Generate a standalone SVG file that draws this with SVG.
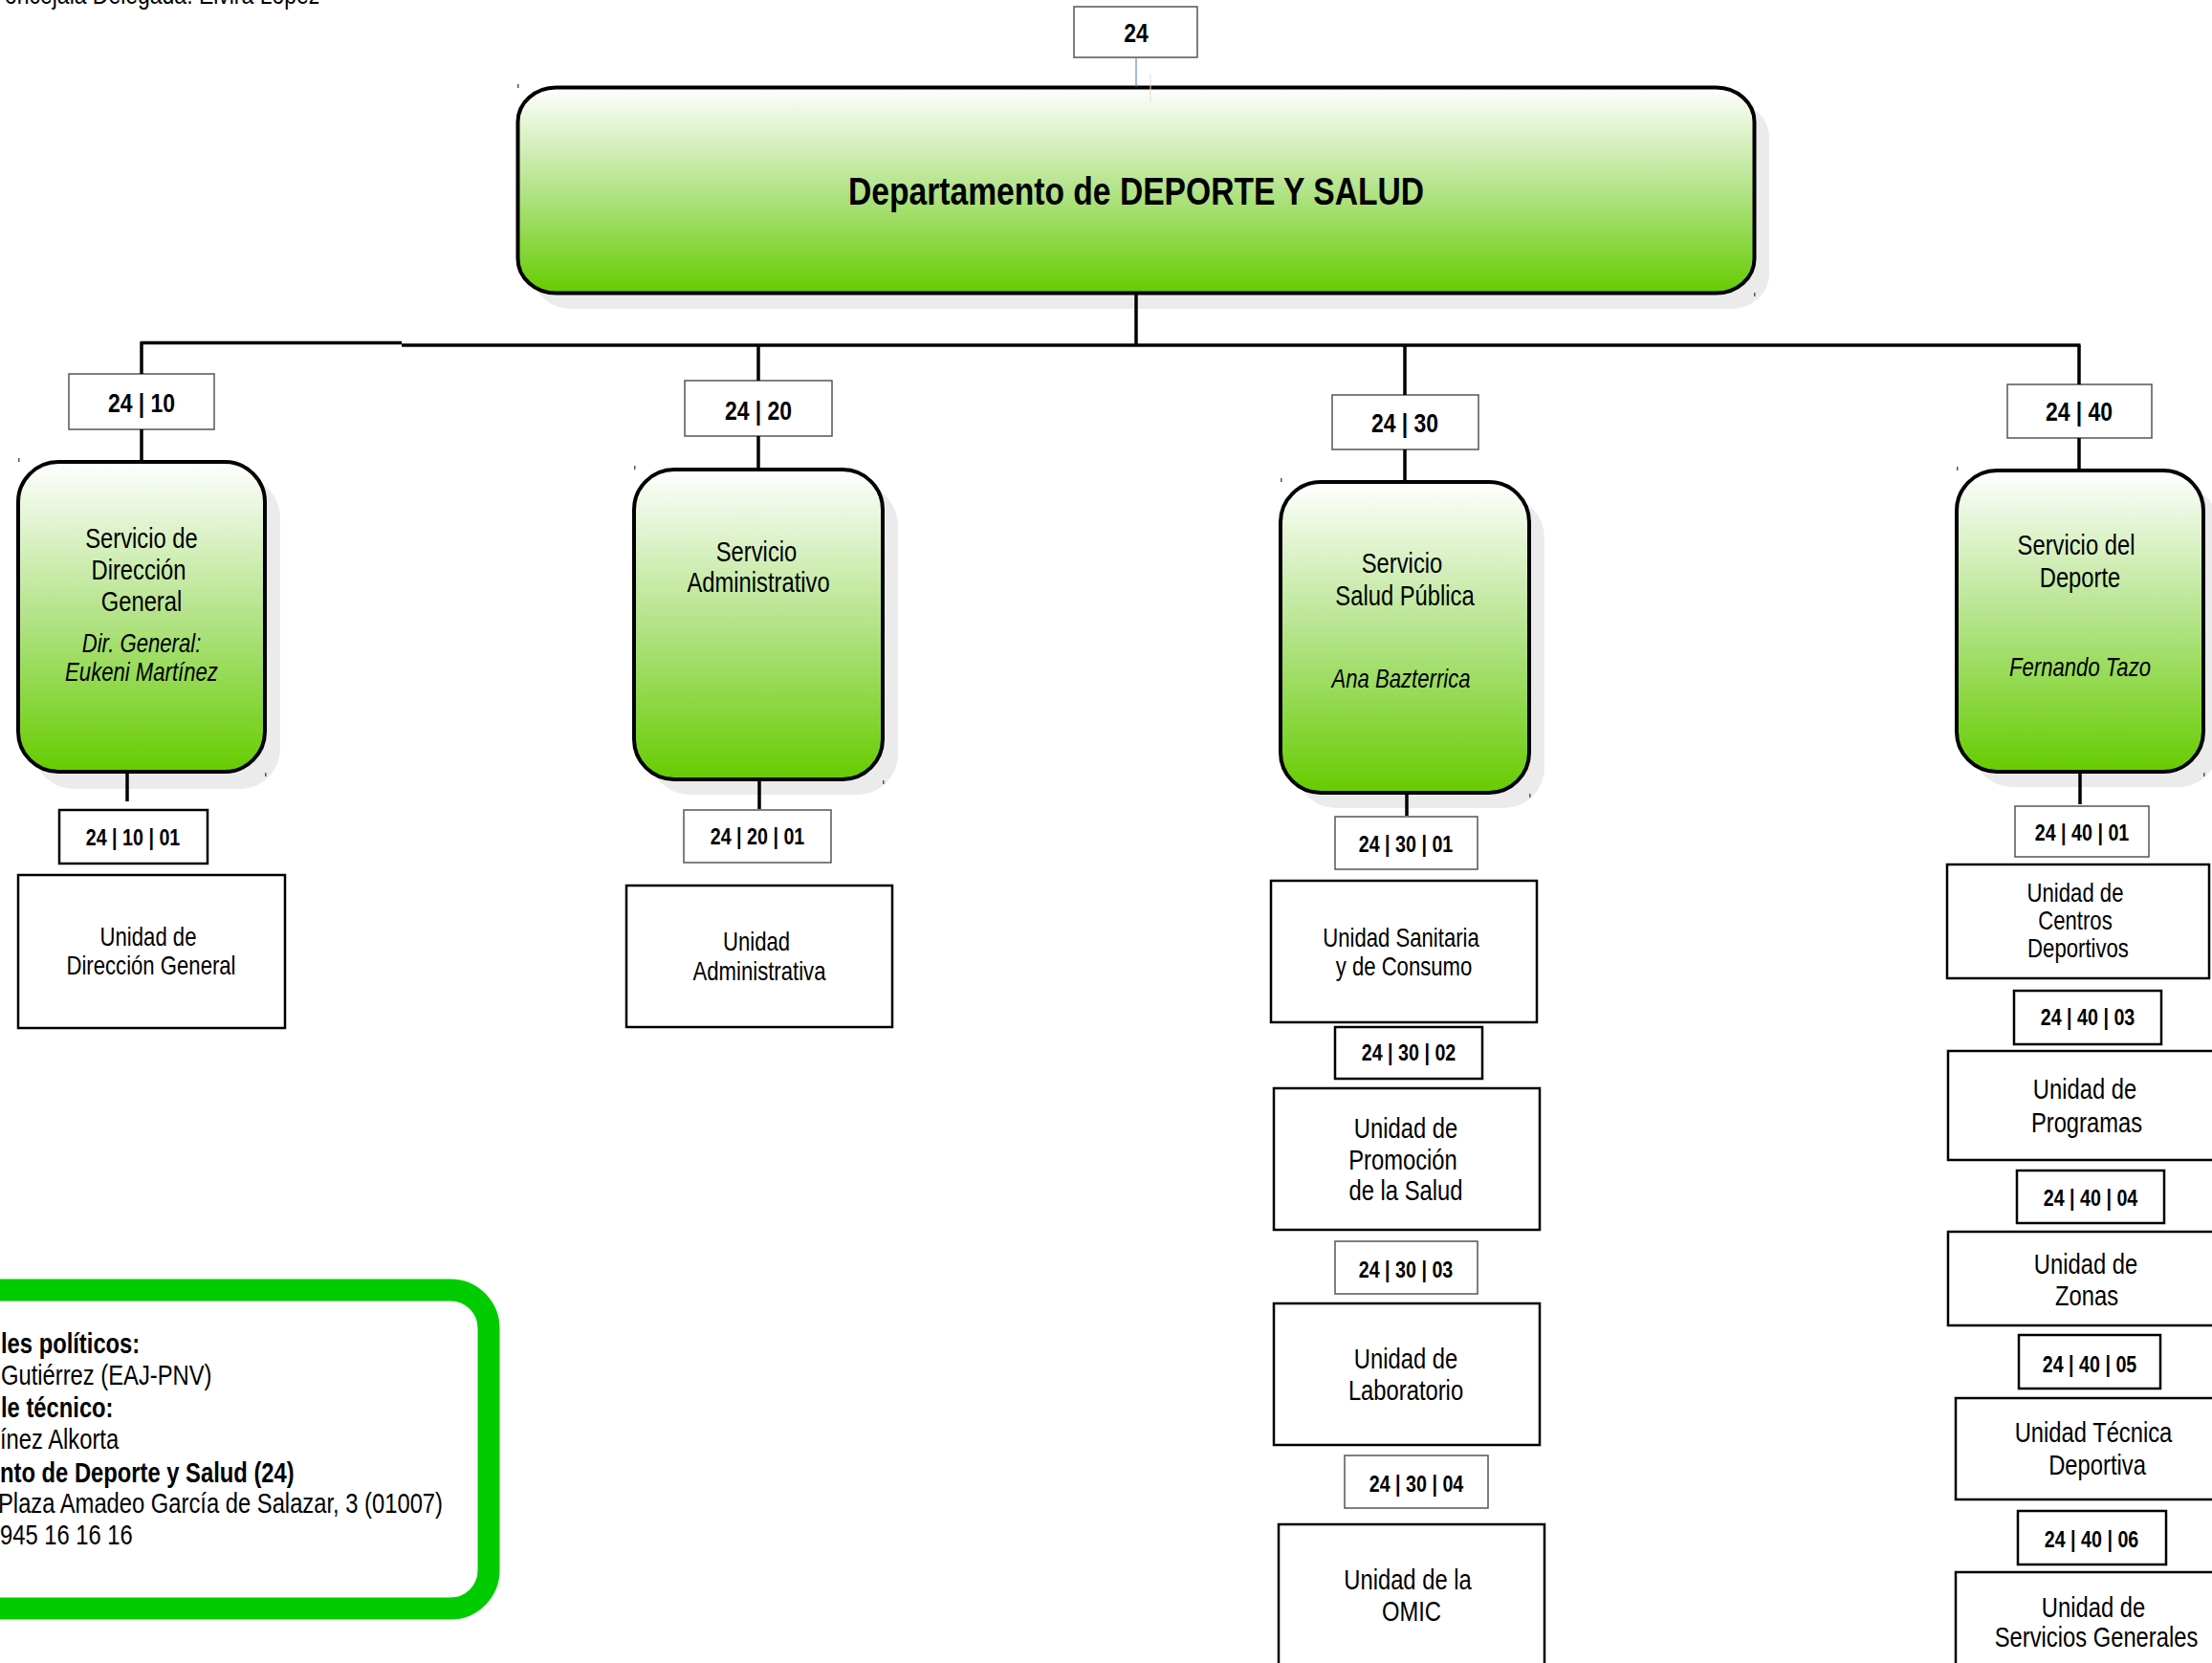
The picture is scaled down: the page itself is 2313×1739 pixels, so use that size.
<svg xmlns="http://www.w3.org/2000/svg" width="2313" height="1739" viewBox="0 0 2313 1739">
<defs>
<linearGradient id="g" x1="0" y1="0" x2="0" y2="1">
<stop offset="0" stop-color="#ffffff"/>
<stop offset="0.5" stop-color="#b3e388"/>
<stop offset="1" stop-color="#66cc00"/>
</linearGradient>
<style>
text{font-family:"Liberation Sans Narrow","Liberation Sans",Arial,sans-serif;fill:#000;text-anchor:middle}
.shadow{fill:#ebebeb}
.svc{fill:url(#g);stroke:#000;stroke-width:4}
.code{fill:#fff;stroke:#555;stroke-width:1.5}
.codek{fill:#fff;stroke:#000;stroke-width:2.5}
.unit{fill:#fff;stroke:#000;stroke-width:2.5}
.c1{font-size:28px;font-weight:bold}
.c2{font-size:24px;font-weight:bold}
.sn{font-size:29px}
.it{font-size:27px;font-style:italic}
.u{font-size:27px}
.ub{font-size:29px}
.lg{font-size:29px;text-anchor:start}
.b{font-weight:bold}
.conn{stroke:#000;stroke-width:3.5;fill:none}
.mk{fill:#555}
</style>
</defs>
<rect width="2313" height="1739" fill="#fff"/>

<text transform="translate(5 4) scale(.82 1)" style="font-size:28px;text-anchor:start">oncejala Delegada: Elvira López</text>

<g id="n24">
<rect class="code" x="1123" y="7" width="129" height="53"/>
<text class="c1" transform="translate(1188 44) scale(.82 1)">24</text>
</g>

<g id="dept">
<rect class="shadow" x="557" y="107" width="1293" height="216" rx="40" ry="36"/>
<rect class="svc" x="541.5" y="91.5" width="1293" height="215" rx="40" ry="36"/>
<rect class="mk" x="541" y="88" width="1.5" height="4"/>
<rect class="mk" x="1834" y="306" width="1.5" height="4"/>
<text transform="translate(1188 214) scale(.82 1)" style="font-size:41px;font-weight:bold">Departamento de DEPORTE Y SALUD</text>
</g>

<g id="n2410">
<rect class="code" x="72" y="391" width="152" height="58"/>
<text class="c1" transform="translate(148 431) scale(.82 1)">24 | 10</text>
</g>
<g id="svc10">
<rect class="shadow" x="35" y="499" width="258" height="326" rx="42"/>
<rect class="svc" x="19" y="483" width="258" height="324" rx="42"/>
<rect class="mk" x="19" y="479" width="1.5" height="4"/>
<rect class="mk" x="277" y="808" width="1.5" height="4"/>
<text class="sn" transform="translate(148 573) scale(.82 1)">Servicio de</text>
<text class="sn" transform="translate(145 606) scale(.82 1)">Dirección</text>
<text class="sn" transform="translate(148 639) scale(.82 1)">General</text>
<text class="it" transform="translate(148 682) scale(.82 1)">Dir. General:</text>
<text class="it" transform="translate(148 712) scale(.82 1)">Eukeni Martínez</text>
</g>
<g id="n241001">
<rect class="codek" x="62" y="847" width="155" height="56"/>
<text class="c2" transform="translate(139 884) scale(.82 1)">24 | 10 | 01</text>
</g>
<g id="u241001">
<rect class="unit" x="19" y="915" width="279" height="160"/>
<text class="u" transform="translate(155 989) scale(.82 1)">Unidad de</text>
<text class="u" transform="translate(158 1019) scale(.82 1)">Dirección General</text>
</g>

<g id="n2420">
<rect class="code" x="716" y="398" width="154" height="58"/>
<text class="c1" transform="translate(793 439) scale(.82 1)">24 | 20</text>
</g>
<g id="svc20">
<rect class="shadow" x="679" y="507" width="260" height="324" rx="42"/>
<rect class="svc" x="663" y="491" width="260" height="324" rx="42"/>
<rect class="mk" x="663" y="487" width="1.5" height="4"/>
<rect class="mk" x="923" y="816" width="1.5" height="4"/>
<text class="sn" transform="translate(791 587) scale(.82 1)">Servicio</text>
<text class="sn" transform="translate(793 619) scale(.82 1)">Administrativo</text>
</g>
<g id="n242001">
<rect class="code" x="715" y="847" width="154" height="55"/>
<text class="c2" transform="translate(792 883) scale(.82 1)">24 | 20 | 01</text>
</g>
<g id="u242001">
<rect class="unit" x="655" y="926" width="278" height="148"/>
<text class="u" transform="translate(791 994) scale(.82 1)">Unidad</text>
<text class="u" transform="translate(794 1025) scale(.82 1)">Administrativa</text>
</g>

<g id="n2430">
<rect class="code" x="1393" y="413" width="153" height="57"/>
<text class="c1" transform="translate(1469 452) scale(.82 1)">24 | 30</text>
</g>
<g id="svc30">
<rect class="shadow" x="1355" y="520" width="260" height="325" rx="42"/>
<rect class="svc" x="1339" y="504" width="260" height="325" rx="42"/>
<rect class="mk" x="1339" y="500" width="1.5" height="4"/>
<rect class="mk" x="1599" y="830" width="1.5" height="4"/>
<text class="sn" transform="translate(1466 599) scale(.82 1)">Servicio</text>
<text class="sn" transform="translate(1469 633) scale(.82 1)">Salud Pública</text>
<text class="it" transform="translate(1465 719) scale(.82 1)">Ana Bazterrica</text>
</g>
<g id="n243001">
<rect class="code" x="1396" y="854" width="149" height="55"/>
<text class="c2" transform="translate(1470 891) scale(.82 1)">24 | 30 | 01</text>
</g>
<g id="u243001">
<rect class="unit" x="1329" y="921" width="278" height="148"/>
<text class="u" transform="translate(1465 990) scale(.82 1)">Unidad Sanitaria</text>
<text class="u" transform="translate(1468 1020) scale(.82 1)">y de Consumo</text>
</g>
<g id="n243002">
<rect class="codek" x="1396" y="1074" width="154" height="54"/>
<text class="c2" transform="translate(1473 1109) scale(.82 1)">24 | 30 | 02</text>
</g>
<g id="u243002">
<rect class="unit" x="1332" y="1138" width="278" height="148"/>
<text class="ub" transform="translate(1470 1190) scale(.82 1)">Unidad de</text>
<text class="ub" transform="translate(1467 1223) scale(.82 1)">Promoción</text>
<text class="ub" transform="translate(1470 1255) scale(.82 1)">de la Salud</text>
</g>
<g id="n243003">
<rect class="code" x="1396" y="1298" width="149" height="55"/>
<text class="c2" transform="translate(1470 1336) scale(.82 1)">24 | 30 | 03</text>
</g>
<g id="u243003">
<rect class="unit" x="1332" y="1363" width="278" height="148"/>
<text class="ub" transform="translate(1470 1431) scale(.82 1)">Unidad de</text>
<text class="ub" transform="translate(1470 1464) scale(.82 1)">Laboratorio</text>
</g>
<g id="n243004">
<rect class="code" x="1406" y="1522" width="150" height="55"/>
<text class="c2" transform="translate(1481 1560) scale(.82 1)">24 | 30 | 04</text>
</g>
<g id="u243004">
<rect class="unit" x="1337" y="1594" width="278" height="170"/>
<text class="ub" transform="translate(1472 1662) scale(.82 1)">Unidad de la</text>
<text class="ub" transform="translate(1476 1695) scale(.82 1)">OMIC</text>
</g>

<g id="n2440">
<rect class="code" x="2099" y="402" width="151" height="56"/>
<text class="c1" transform="translate(2174 440) scale(.82 1)">24 | 40</text>
</g>
<g id="svc40">
<rect class="shadow" x="2062" y="508" width="258" height="315" rx="42"/>
<rect class="svc" x="2046" y="492" width="258" height="315" rx="42"/>
<rect class="mk" x="2046" y="488" width="1.5" height="4"/>
<rect class="mk" x="2304" y="808" width="1.5" height="4"/>
<text class="sn" transform="translate(2171 580) scale(.82 1)">Servicio del</text>
<text class="sn" transform="translate(2175 614) scale(.82 1)">Deporte</text>
<text class="it" transform="translate(2175 707) scale(.82 1)">Fernando Tazo</text>
</g>
<g id="n244001">
<rect class="code" x="2107" y="843" width="140" height="53"/>
<text class="c2" transform="translate(2177 879) scale(.82 1)">24 | 40 | 01</text>
</g>
<g id="u244001">
<rect class="unit" x="2036" y="904" width="274" height="119"/>
<text class="u" transform="translate(2170 943) scale(.82 1)">Unidad de</text>
<text class="u" transform="translate(2170 972) scale(.82 1)">Centros</text>
<text class="u" transform="translate(2173 1001) scale(.82 1)">Deportivos</text>
</g>
<g id="n244003">
<rect class="codek" x="2106" y="1036" width="154" height="56"/>
<text class="c2" transform="translate(2183 1072) scale(.82 1)">24 | 40 | 03</text>
</g>
<g id="u244003">
<rect class="unit" x="2037" y="1099" width="290" height="114"/>
<text class="ub" transform="translate(2180 1149) scale(.82 1)">Unidad de</text>
<text class="ub" transform="translate(2182 1184) scale(.82 1)">Programas</text>
</g>
<g id="n244004">
<rect class="codek" x="2109" y="1224" width="154" height="55"/>
<text class="c2" transform="translate(2186 1261) scale(.82 1)">24 | 40 | 04</text>
</g>
<g id="u244004">
<rect class="unit" x="2037" y="1288" width="290" height="98"/>
<text class="ub" transform="translate(2181 1332) scale(.82 1)">Unidad de</text>
<text class="ub" transform="translate(2182 1365) scale(.82 1)">Zonas</text>
</g>
<g id="n244005">
<rect class="codek" x="2111" y="1396" width="148" height="56"/>
<text class="c2" transform="translate(2185 1435) scale(.82 1)">24 | 40 | 05</text>
</g>
<g id="u244005">
<rect class="unit" x="2045" y="1462" width="290" height="106"/>
<text class="ub" transform="translate(2189 1508) scale(.82 1)">Unidad Técnica</text>
<text class="ub" transform="translate(2193 1542) scale(.82 1)">Deportiva</text>
</g>
<g id="n244006">
<rect class="codek" x="2110" y="1580" width="155" height="56"/>
<text class="c2" transform="translate(2187 1618) scale(.82 1)">24 | 40 | 06</text>
</g>
<g id="u244006">
<rect class="unit" x="2045" y="1644" width="290" height="120"/>
<text class="ub" transform="translate(2189 1691) scale(.82 1)">Unidad de</text>
<text class="ub" transform="translate(2192 1722) scale(.82 1)">Servicios Generales</text>
</g>

<g id="legend">
<rect x="-60" y="1349" width="571" height="333" rx="40" fill="#fff" stroke="#00cc00" stroke-width="23"/>
<text class="lg b" transform="translate(1 1415) scale(.82 1)">les políticos:</text>
<text class="lg" transform="translate(1 1448) scale(.82 1)">Gutiérrez (EAJ-PNV)</text>
<text class="lg b" transform="translate(1 1482) scale(.82 1)">le técnico:</text>
<text class="lg" transform="translate(0 1515) scale(.82 1)">ínez Alkorta</text>
<text class="lg b" transform="translate(0 1550) scale(.82 1)">nto de Deporte y Salud (24)</text>
<text class="lg" transform="translate(-2 1582) scale(.82 1)">Plaza Amadeo García de Salazar, 3 (01007)</text>
<text class="lg" transform="translate(0 1615) scale(.82 1)">945 16 16 16</text>
</g>

<g id="connectors">
<line x1="1188" y1="60" x2="1188" y2="91" stroke="#4472c4" stroke-width="1"/>
<line x1="1203" y1="77" x2="1203" y2="107" stroke="#dddddd" stroke-width="1"/>
<line class="conn" x1="1188" y1="308" x2="1188" y2="361"/>
<line class="conn" x1="148" y1="358.5" x2="420" y2="358.5"/>
<line class="conn" x1="420" y1="361" x2="2175.5" y2="361"/>
<line class="conn" x1="148" y1="357" x2="148" y2="391"/>
<line class="conn" x1="148" y1="449" x2="148" y2="481"/>
<line class="conn" x1="793" y1="361" x2="793" y2="398"/>
<line class="conn" x1="793" y1="456" x2="793" y2="489"/>
<line class="conn" x1="1469" y1="361" x2="1469" y2="413"/>
<line class="conn" x1="1469" y1="470" x2="1469" y2="502"/>
<line class="conn" x1="2174" y1="361" x2="2174" y2="402"/>
<line class="conn" x1="2174" y1="458" x2="2174" y2="490"/>
<line class="conn" x1="133" y1="809" x2="133" y2="838"/>
<line class="conn" x1="794" y1="817" x2="794" y2="846"/>
<line class="conn" x1="1471" y1="831" x2="1471" y2="853"/>
<line class="conn" x1="2175" y1="809" x2="2175" y2="841"/>
</g>
</svg>
